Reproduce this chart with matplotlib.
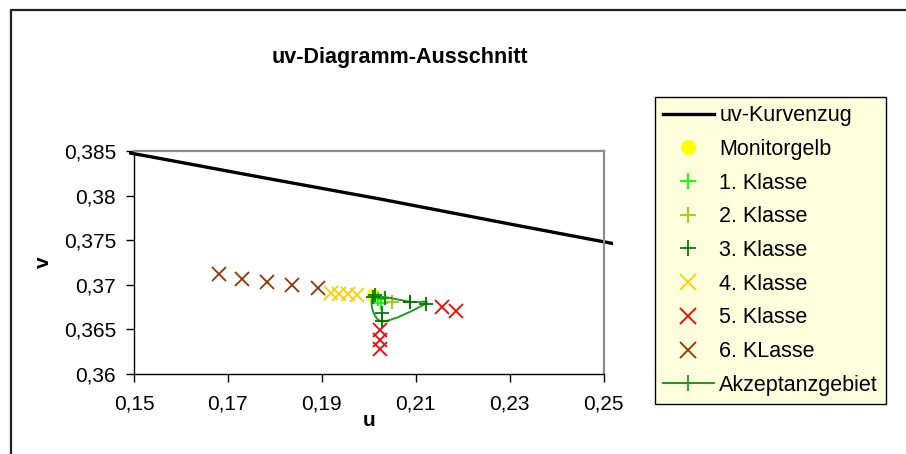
import numpy as np
import matplotlib
matplotlib.use("Agg")
import matplotlib.pyplot as plt
from matplotlib.patches import Rectangle, PathPatch
from matplotlib.path import Path
from matplotlib.ticker import FuncFormatter

plt.rcParams['font.family'] = ['Liberation Sans', 'DejaVu Sans']

# Spektralzug im uv-Diagramm (555 ... 580 nm)
kurve_u = [0.1319, 0.1531, 0.1766, 0.2026, 0.2312, 0.2623]
kurve_v = [0.3864, 0.3844, 0.3821, 0.3796, 0.3767, 0.3736]

gelb_u = [0.2010]
gelb_v = [0.3689]

k1_u = [0.2020, 0.2026]
k1_v = [0.3684, 0.3680]

k2_u = [0.2050]
k2_v = [0.3681]

k3_u = [0.2013, 0.2035, 0.2088, 0.2028]
k3_v = [0.3689, 0.3685, 0.3681, 0.3668]

k4_u = [0.1920, 0.1937, 0.1956, 0.1974]
k4_v = [0.3691, 0.3690, 0.3690, 0.3689]

k5_u = [0.2155, 0.2186, 0.2024, 0.2024, 0.2024]
k5_v = [0.3675, 0.3671, 0.3649, 0.3638, 0.3628]

k6_u = [0.1682, 0.1731, 0.1783, 0.1837, 0.1892]
k6_v = [0.3712, 0.3706, 0.3703, 0.3700, 0.3696]

# Akzeptanzgebiet (geschlossener Zug)
akz_u = [0.2010, 0.2088, 0.2121, 0.2028, 0.2010]
akz_v = [0.3686, 0.3681, 0.3679, 0.3659, 0.3686]

x_ticks = [0.15, 0.17, 0.19, 0.21, 0.23, 0.25]
y_ticks = [0.36, 0.365, 0.37, 0.375, 0.38, 0.385]


def smooth_path(xs, ys, tension=1 / 6):
    # geglaetteter Linienzug wie in Excel (Bezier durch die Stuetzpunkte)
    pts = np.column_stack([xs, ys])
    n = len(pts)
    closed = np.allclose(pts[0], pts[-1])
    verts = [pts[0]]
    codes = [Path.MOVETO]
    for i in range(n - 1):
        if closed:
            p0 = pts[i - 1] if i > 0 else pts[n - 2]
            p3 = pts[i + 2] if i + 2 < n else pts[1]
        else:
            p0 = pts[max(i - 1, 0)]
            p3 = pts[min(i + 2, n - 1)]
        p1, p2 = pts[i], pts[i + 1]
        c1 = p1 + (p2 - p0) * tension
        c2 = p2 - (p3 - p1) * tension
        verts += [c1, c2, p2]
        codes += [Path.CURVE4] * 3
    return Path(verts, codes)


fig = plt.figure(figsize=(9.06, 4.54), dpi=100)
ax = fig.add_axes([134 / 906, 80 / 454, 469.5 / 906, 223 / 454])

# Rahmen des Diagrammbereichs
fig.patches.append(Rectangle((11 / 906, -0.1), 1.2, 1.1 - 10 / 454,
                             transform=fig.transFigure, fill=False,
                             edgecolor='#222222', lw=1.6))

line, = ax.plot(kurve_u, kurve_v, color='black', lw=2.4, label='uv-Kurvenzug')
line.set_clip_path(Rectangle((-0.01, 0), 1.03, 1.0, transform=ax.transAxes))

ax.plot(gelb_u, gelb_v, 'o', color='#FFFF00', ms=9, label='Monitorgelb', zorder=3)
ax.plot(k1_u, k1_v, '+', color='#00FF00', ms=10, mew=1.3, label='1. Klasse', zorder=4)
ax.plot(k2_u, k2_v, '+', color='#99CC00', ms=10, mew=1.3, label='2. Klasse', zorder=4)
ax.plot(k3_u, k3_v, '+', color='#008000', ms=10, mew=1.3, label='3. Klasse', zorder=4)
ax.plot(k4_u, k4_v, 'x', color='#FFCC00', ms=10, mew=1.3, label='4. Klasse', zorder=3)
ax.plot(k5_u, k5_v, 'x', color='#FF0000', ms=10, mew=1.3, label='5. Klasse', zorder=3)
ax.plot(k6_u, k6_v, 'x', color='#993300', ms=10, mew=1.3, label='6. KLasse', zorder=3)

ax.add_patch(PathPatch(smooth_path(akz_u, akz_v), fill=False,
                       edgecolor='#229922', lw=1.4, zorder=4))
ax.plot(akz_u[:-1], akz_v[:-1], '+', color='#007700', ms=10, mew=1.3, zorder=5)
ax.plot([], [], '-+', color='#229922', ms=10, mew=1.3, lw=1.4, label='Akzeptanzgebiet')

ax.set_xlim(0.15, 0.25)
ax.set_ylim(0.36, 0.385)
ax.set_xticks(x_ticks)
ax.set_yticks(y_ticks)
fmt = FuncFormatter(lambda v, p: ('%g' % round(v, 4)).replace('.', ','))
ax.xaxis.set_major_formatter(fmt)
ax.yaxis.set_major_formatter(fmt)
ax.tick_params(labelsize=15, length=6, width=1, color='black', pad=7)
ax.tick_params(axis='x', pad=9)

for s in ['top', 'right']:
    ax.spines[s].set_color('#8c8c8c')
    ax.spines[s].set_linewidth(1.6)
for s in ['left', 'bottom']:
    ax.spines[s].set_color('black')
    ax.spines[s].set_linewidth(1.0)

ax.set_xlabel('u', fontsize=15, fontweight='bold', labelpad=-2)
ax.set_ylabel('v', fontsize=15, fontweight='bold', labelpad=8)

fig.text(400 / 906, 1 - 58 / 454, 'uv-Diagramm-Ausschnitt', fontsize=15.5,
         fontweight='bold', ha='center', va='center')

leg = ax.legend(loc='upper left', bbox_to_anchor=(655 / 906, 1 - 97 / 454),
                bbox_transform=fig.transFigure, fontsize=15.5, frameon=True,
                fancybox=False, framealpha=1, edgecolor='black',
                facecolor='#FFFFDD', handlelength=2.35, handletextpad=0.25,
                labelspacing=0.59, borderpad=0.38, borderaxespad=0,
                markerscale=1.1)
leg.get_frame().set_linewidth(1.0)

fig.savefig('out.png', dpi=100)
